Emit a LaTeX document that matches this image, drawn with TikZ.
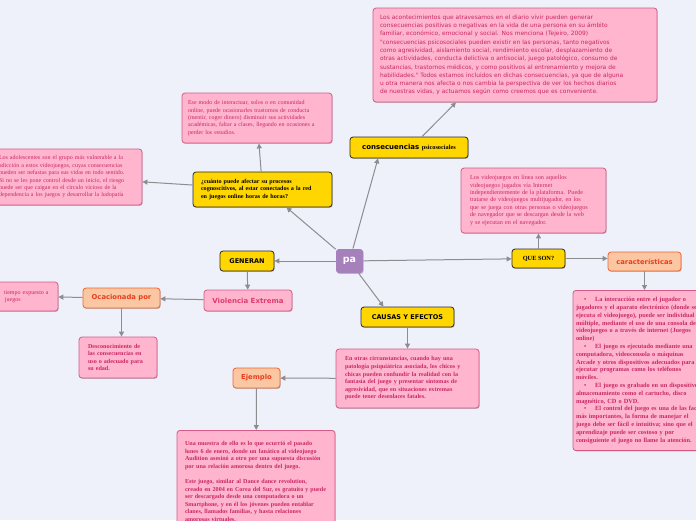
\documentclass[tikz,border=0pt]{standalone}
\usepackage{fontspec}
\setmainfont{Liberation Serif}
\newfontfamily\dvs{DejaVu Sans}
\usetikzlibrary{arrows.meta,shadows}
\definecolor{bgc}{RGB}{239,241,250}
\definecolor{lineg}{RGB}{140,140,145}
\definecolor{pinkf}{RGB}{255,181,206}
\definecolor{pinkb}{RGB}{212,90,135}
\definecolor{pinkt}{RGB}{200,40,100}
\definecolor{yelf}{RGB}{255,214,0}
\definecolor{yelb}{RGB}{40,40,40}
\definecolor{oraf}{RGB}{251,198,162}
\definecolor{orab}{RGB}{240,100,50}
\definecolor{orat}{RGB}{232,62,30}
\definecolor{paf}{RGB}{166,128,186}
\tikzset{
  conn/.style={draw=lineg, line width=1pt, -{Triangle[length=5pt,width=5pt]}},
  boxbase/.style={rounded corners=3pt, line width=0.8pt,
    drop shadow={shadow xshift=0.7pt, shadow yshift=-0.9pt, fill=black, opacity=0.22}},
  pinkbox/.style={boxbase, draw=pinkb, fill=pinkf, text=pinkt, align=left, inner ysep=0pt},
  regtxt/.style={font=\fontsize{6}{7.4}\selectfont},
  boldtxt/.style={font=\bfseries\fontsize{6.1}{7.6}\selectfont},
  yel/.style={boxbase, draw=yelb, fill=yelf, text=black, align=center, inner sep=0pt},
  ora/.style={boxbase, draw=orab, fill=oraf, text=orat, inner sep=0pt,
    font=\dvs\bfseries\fontsize{6.8}{8}\selectfont},
}
\begin{document}
\begin{tikzpicture}[x=1pt,y=-1pt]
\useasboundingbox (0,0) rectangle (696,520);
\clip (0,0) rectangle (696,520);
\fill[bgc] (0,0) rectangle (696,520);

% central
\node[boxbase, fill=paf, text=white, minimum width=27pt, minimum height=24pt, inner sep=0pt,
  font=\dvs\bfseries\fontsize{9.5}{11}\selectfont] (pa) at (349.5,261) {pa};

% consecuencias
\node[yel, minimum width=118pt, minimum height=21pt] (cons) at (409,147.5)
  {{\dvs\bfseries\fontsize{7}{8}\selectfont consecuencias} {\bfseries\fontsize{6.3}{7}\selectfont psicosociales}};
\node[pinkbox, text width=270pt, inner xsep=7pt, minimum height=94pt,
  font=\dvs\fontsize{5.9}{8.3}\selectfont] (tr) at (515,55)
  {Los acontecimientos que atravesamos en el diario vivir pueden generar\\
   consecuencias positivas o negativas en la vida de una persona en su ámbito\\
   familiar, económico, emocional y social. Nos menciona (Tejeiro, 2009)\\
   "consecuencias psicosociales pueden existir en las personas, tanto negativos\\
   como agresividad, aislamiento social, rendimiento escolar, desplazamiento de\\
   otras actividades, conducta delictiva o antisocial, juego patológico, consumo de\\
   sustancias, trastornos médicos, y como positivos al entrenamiento y mejora de\\
   habilidades." Todos estamos incluidos en dichas consecuencias, ya que de alguna\\
   u otra manera nos afecta o nos cambia la perspectiva de ver los hechos diarios\\
   de nuestras vidas, y actuamos según como creemos que es conveniente.};

% cuanto
\node[yel, align=left, text width=123pt, inner xsep=8pt, minimum height=35pt, boldtxt] (q) at (262.5,189.5)
  {¿cuánto puede afectar su procesos\\
   cognoscitivos, al estar conectados a la red\\
   en juegos online horas de horas?};
\node[pinkbox, regtxt, text width=138pt, inner xsep=6pt, minimum height=50pt] (em) at (257,118)
  {Ese modo de interactuar, solos o en comunidad\\
   online, puede ocasionarles trastornos de conducta\\
   (mentir, coger dinero) disminuir sus actividades\\
   académicas, faltar a clases, llegando en ocasiones a\\
   perder los estudios.};
\node[pinkbox, regtxt, text width=136pt, inner xsep=7pt, minimum height=56pt] (ad) at (67,177)
  {Los adolescentes son el grupo más vulnerable a la\\
   adicción a estos videojuegos, cuyas consecuencias\\
   pueden ser nefastas para sus vidas en todo sentido.\\
   Si no se les pone control desde un inicio, el riesgo\\
   puede ser que caigan en el círculo vicioso de la\\
   dependencia a los juegos y desarrollar la ludopatía};

% generan branch
\node[yel, minimum width=54pt, minimum height=20pt, font=\dvs\bfseries\fontsize{6.5}{8}\selectfont] (gen) at (247,261) {GENERAN};
\node[pinkbox, align=center, inner sep=0pt, minimum width=88pt, minimum height=21pt,
  font=\dvs\bfseries\fontsize{7}{8}\selectfont, text={rgb,255:red,222;green,60;blue,110}] (vio) at (248,300.5) {Violencia Extrema};
\node[ora, minimum width=77pt, minimum height=20pt] (oca) at (121.5,298) {Ocacionada por};
\node[pinkbox, regtxt, text width=60pt, inner xsep=4pt, minimum height=29pt] (sm) at (24,296.5)
  {\hspace*{10pt}tiempo expuesto a\\ \hspace*{11pt}juegos};
\node[pinkbox, boldtxt, text width=60pt, inner xsep=9pt, minimum height=41pt] (des) at (118,357.5)
  {Desconocimiento de\\ las consecuencias en\\ uso o adecuado para\\ su edad.};

% causas branch
\node[yel, minimum width=93pt, minimum height=20pt, font=\dvs\bfseries\fontsize{6.5}{8}\selectfont] (cau) at (407.5,317) {CAUSAS Y EFECTOS};
\node[pinkbox, boldtxt, text width=125pt, inner xsep=9pt, minimum height=59pt] (eo) at (407.5,378.5)
  {En otras circunstancias, cuando hay una\\
   patología psiquiátrica asociada, los chicos y\\
   chicas pueden confundir la realidad con la\\
   fantasía del juego y presentar síntomas de\\
   agresividad, que en situaciones extremas\\
   puede tener desenlaces fatales.};
\node[ora, minimum width=47pt, minimum height=20pt] (ej) at (256.5,378) {Ejemplo};
\node[pinkbox, boldtxt, text width=142pt, inner xsep=8pt, inner ysep=8pt, anchor=north] (um) at (256,430)
  {\rule{0pt}{7pt}Una muestra de ello es lo que ocurrió el pasado\\
   lunes 6 de enero, donde un fanático al videojuego\\
   Audition asesinó a otro por una supuesta discusión\\
   por una relación amorosa dentro del juego.\\[7.6pt]
   Este juego, similar al Dance dance revolution,\\
   creado en 2004 en Corea del Sur, es gratuito y puede\\
   ser descargado desde una computadora o un\\
   Smartphone, y en él los jóvenes pueden entablar\\
   clanes, llamados familias, y hasta relaciones\\
   amorosas virtuales.};

% que son branch
\node[yel, minimum width=53pt, minimum height=19pt, font=\bfseries\fontsize{6.3}{8}\selectfont] (que) at (538.5,258.5) {QUE SON?};
\node[pinkbox, font=\fontsize{6.2}{7.35}\selectfont, text width=127pt, inner xsep=9pt, minimum height=65pt] (vj) at (533.5,200.5)
  {Los videojuegos en línea son aquellos\\
   videojuegos jugados vía Internet\\
   independientemente de la plataforma. Puede\\
   tratarse de videojuegos multijugador, en los\\
   que se juega con otras personas o videojuegos\\
   de navegador que se descargan desde la web\\
   y se ejecutan en el navegador.};
\node[ora, minimum width=73pt, minimum height=19pt] (car) at (644.5,261.5) {características};
\node[pinkbox, font=\bfseries\fontsize{6.3}{7.8}\selectfont, text width=140pt, inner xsep=3pt, inner ysep=7pt, anchor=north] (rb) at (646,290)
  {\hspace*{8pt}•\hspace*{9pt}La interacción entre el jugador o\\
   jugadores y el aparato electrónico (donde se\\
   ejecuta el videojuego), puede ser individual o\\
   múltiple, mediante el uso de una consola de\\
   videojuegos o a través de internet (Juegos\\
   online)\\
   \hspace*{8pt}•\hspace*{9pt}El juego es ejecutado mediante una\\
   computadora, videoconsola o máquinas\\
   Arcade y otros dispositivos adecuados para\\
   ejecutar programas como los teléfonos\\
   móviles.\\
   \hspace*{8pt}•\hspace*{9pt}El juego es grabado en un dispositivo de\\
   almacenamiento como el cartucho, disco\\
   magnético, CD o DVD.\\
   \hspace*{8pt}•\hspace*{9pt}El control del juego es una de las facetas\\
   más importantes, la forma de manejar el\\
   juego debe ser fácil e intuitiva; sino que el\\
   aprendizaje puede ser costoso y por\\
   consiguiente el juego no llame la atención.};

% connectors
\draw[conn] (pa) -- ([xshift=-31pt]cons.south);
\draw[conn] ([xshift=13pt]cons.north) -- ([xshift=-59pt]tr.south);
\draw[conn] (pa) -- ([xshift=24pt]q.south);
\draw[conn] (q) -- (em);
\draw[conn] (q) -- (ad);
\draw[conn] (pa) -- (gen);
\draw[conn] (gen) -- (vio);
\draw[conn] (vio) -- (oca);
\draw[conn] (oca) -- (sm);
\draw[conn] (oca) -- (oca |- des.north);
\draw[conn] (pa) -- ([xshift=-24pt]cau.north);
\draw[conn] (cau) -- (eo);
\draw[conn] (eo) -- (ej);
\draw[conn] (ej) -- (um);
\draw[conn] (pa) -- (que);
\draw[conn] (que) -- (que |- vj.south);
\draw[conn] (que) -- (car.west |- que);
\draw[conn] (car) -- (car |- rb.north);
\end{tikzpicture}
\end{document}
